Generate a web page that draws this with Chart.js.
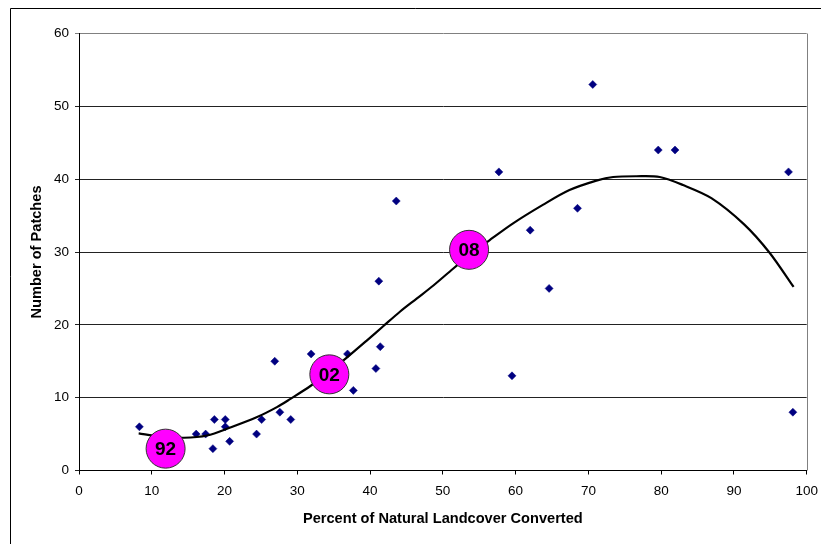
<!DOCTYPE html>
<html>
<head>
<meta charset="utf-8">
<script src="https://cdn.jsdelivr.net/npm/chart.js@4/dist/chart.umd.min.js"></script>
<style>
  html, body { margin: 0; padding: 0; background: #fff; overflow: hidden; }
  canvas { display: block; }
</style>
</head>
<body>
<canvas id="c" width="821" height="544"></canvas>
<script>
// Observed data points (Percent converted, Number of patches)
const pointX = [8.3, 16.1, 17.4, 18.6, 18.4, 20.1, 20.1, 20.7, 24.4, 25.1, 26.9, 27.6, 29.1, 31.9, 36.9, 37.7, 40.8, 41.4, 41.2, 43.6, 57.7, 59.5, 62.0, 64.6, 68.5, 70.6, 79.6, 81.9, 97.5, 98.1];
const pointY = [6, 5, 5, 7, 3, 7, 6, 4, 5, 7, 15, 8, 7, 16, 16, 11, 14, 17, 26, 37, 41, 13, 33, 25, 36, 53, 44, 44, 41, 8];

// Trend curve
const curveX = [8.2, 11, 14.4, 17.6, 20.8, 24.4, 27.2, 29.0, 31.8, 34.3, 36.8, 39.5, 41.8, 44.1, 46.4, 48.7, 51.4, 53.6, 56.4, 59.6, 63.8, 67.4, 71.1, 73.4, 76.6, 79.8, 83.0, 86.9, 91.4, 94.9, 98.2];
const curveY = [5.1, 4.7, 4.5, 4.8, 5.9, 7.3, 8.7, 9.8, 11.6, 13.5, 15.5, 17.8, 19.8, 21.8, 23.6, 25.4, 27.7, 29.5, 31.6, 33.9, 36.5, 38.5, 39.8, 40.3, 40.4, 40.3, 39.2, 37.4, 33.8, 29.9, 25.2];

// Year markers
const yearLabels = ['92', '02', '08'];
const yearX = [11.9, 34.4, 53.6];
const yearY = [3.0, 13.2, 30.3];

// Axes
const xTicks = [0, 10, 20, 30, 40, 50, 60, 70, 80, 90, 100];
const yTicks = [0, 10, 20, 30, 40, 50, 60];
const xTitle = 'Percent of Natural Landcover Converted';
const yTitle = 'Number of Patches';

const zip = (xs, ys) => xs.map((x, i) => ({ x: x, y: ys[i] }));

const framePlugin = {
  id: 'frame',
  beforeDraw(chart) {
    const ctx = chart.ctx;
    ctx.save();
    ctx.fillStyle = '#fff';
    ctx.fillRect(0, 0, chart.width, chart.height);
    ctx.strokeStyle = '#000';
    ctx.lineWidth = 1;
    ctx.beginPath();
    ctx.moveTo(10.5, chart.height);
    ctx.lineTo(10.5, 8.5);
    ctx.lineTo(chart.width, 8.5);
    ctx.stroke();
    ctx.restore();
  },
  beforeDatasetsDraw(chart) {
    const ctx = chart.ctx;
    const a = chart.chartArea;
    const xs = chart.scales.x;
    ctx.save();
    ctx.strokeStyle = '#808080';
    ctx.lineWidth = 1;
    ctx.beginPath();
    const xr = Math.round(xs.getPixelForValue(xs.max)) + 0.5;
    ctx.moveTo(xr, a.top);
    ctx.lineTo(xr, a.bottom);
    ctx.stroke();
    ctx.restore();
  },
  afterDatasetsDraw(chart) {
    const meta = chart.getDatasetMeta(0);
    const ctx = chart.ctx;
    ctx.save();
    ctx.fillStyle = '#000';
    ctx.font = 'bold 19px "Liberation Sans", Arial, sans-serif';
    ctx.textAlign = 'center';
    ctx.textBaseline = 'middle';
    meta.data.forEach((el, i) => {
      ctx.fillText(yearLabels[i], el.x, el.y + 1);
    });
    ctx.restore();
  }
};

new Chart(document.getElementById('c'), {
  type: 'scatter',
  data: {
    datasets: [
      {
        label: 'Years',
        data: zip(yearX, yearY),
        pointStyle: 'circle',
        pointRadius: 19.5,
        pointHoverRadius: 19.5,
        backgroundColor: '#FF00FF',
        borderColor: '#333',
        pointBorderWidth: 1,
        order: 0
      },
      {
        label: 'Trend',
        data: zip(curveX, curveY),
        showLine: true,
        tension: 0.3,
        pointRadius: 0,
        borderColor: '#000',
        borderWidth: 2.2,
        backgroundColor: 'transparent',
        fill: false,
        order: 1
      },
      {
        label: 'Patches',
        data: zip(pointX, pointY),
        pointStyle: 'rectRot',
        pointRadius: 4,
        pointHoverRadius: 4,
        backgroundColor: '#000080',
        borderColor: '#000080',
        pointBorderWidth: 0.5,
        order: 2
      }
    ]
  },
  options: {
    responsive: false,
    maintainAspectRatio: false,
    animation: false,
    events: [],
    layout: { autoPadding: false, padding: { left: 0, top: 33.5, right: 14.3, bottom: 0 } },
    plugins: {
      legend: { display: false },
      tooltip: { enabled: false }
    },
    scales: {
      x: {
        type: 'linear',
        min: 0,
        max: 100,
        afterBuildTicks(scale) { scale.ticks = xTicks.map(v => ({ value: v })); },
        afterFit(scale) {
          scale.height = 73.5;
          scale.paddingLeft = 0; scale.paddingRight = 0;
          scale.paddingTop = 0; scale.paddingBottom = 0;
        },
        ticks: {
          color: '#000',
          padding: 8.5,
          font: { family: '"Liberation Sans", Arial, sans-serif', size: 13.5 },
          maxRotation: 0
        },
        grid: { drawOnChartArea: false, drawTicks: true, tickLength: 4, color: '#000' },
        border: { display: true, color: '#000', width: 1 },
        title: {
          display: true,
          text: xTitle,
          color: '#000',
          font: { family: '"Liberation Sans", Arial, sans-serif', size: 14.6, weight: 'bold' },
          padding: { top: 0, bottom: 16.7 }
        }
      },
      y: {
        type: 'linear',
        min: 0,
        max: 60,
        afterBuildTicks(scale) { scale.ticks = yTicks.map(v => ({ value: v })); },
        afterFit(scale) {
          scale.width = 79;
          scale.paddingLeft = 0; scale.paddingRight = 0;
          scale.paddingTop = 0; scale.paddingBottom = 0;
        },
        ticks: {
          color: '#000',
          padding: 6,
          font: { family: '"Liberation Sans", Arial, sans-serif', size: 13.5 }
        },
        grid: {
          drawOnChartArea: true,
          drawTicks: true,
          tickLength: 4,
          color: (c) => (c.tick && c.tick.value === 60 ? '#808080' : '#222')
        },
        border: { display: true, color: '#000', width: 1 },
        title: {
          display: true,
          text: yTitle,
          color: '#000',
          font: { family: '"Liberation Sans", Arial, sans-serif', size: 14.6, weight: 'bold' },
          padding: { top: 28.2, bottom: 0 }
        }
      }
    }
  },
  plugins: [framePlugin]
});
</script>
</body>
</html>
